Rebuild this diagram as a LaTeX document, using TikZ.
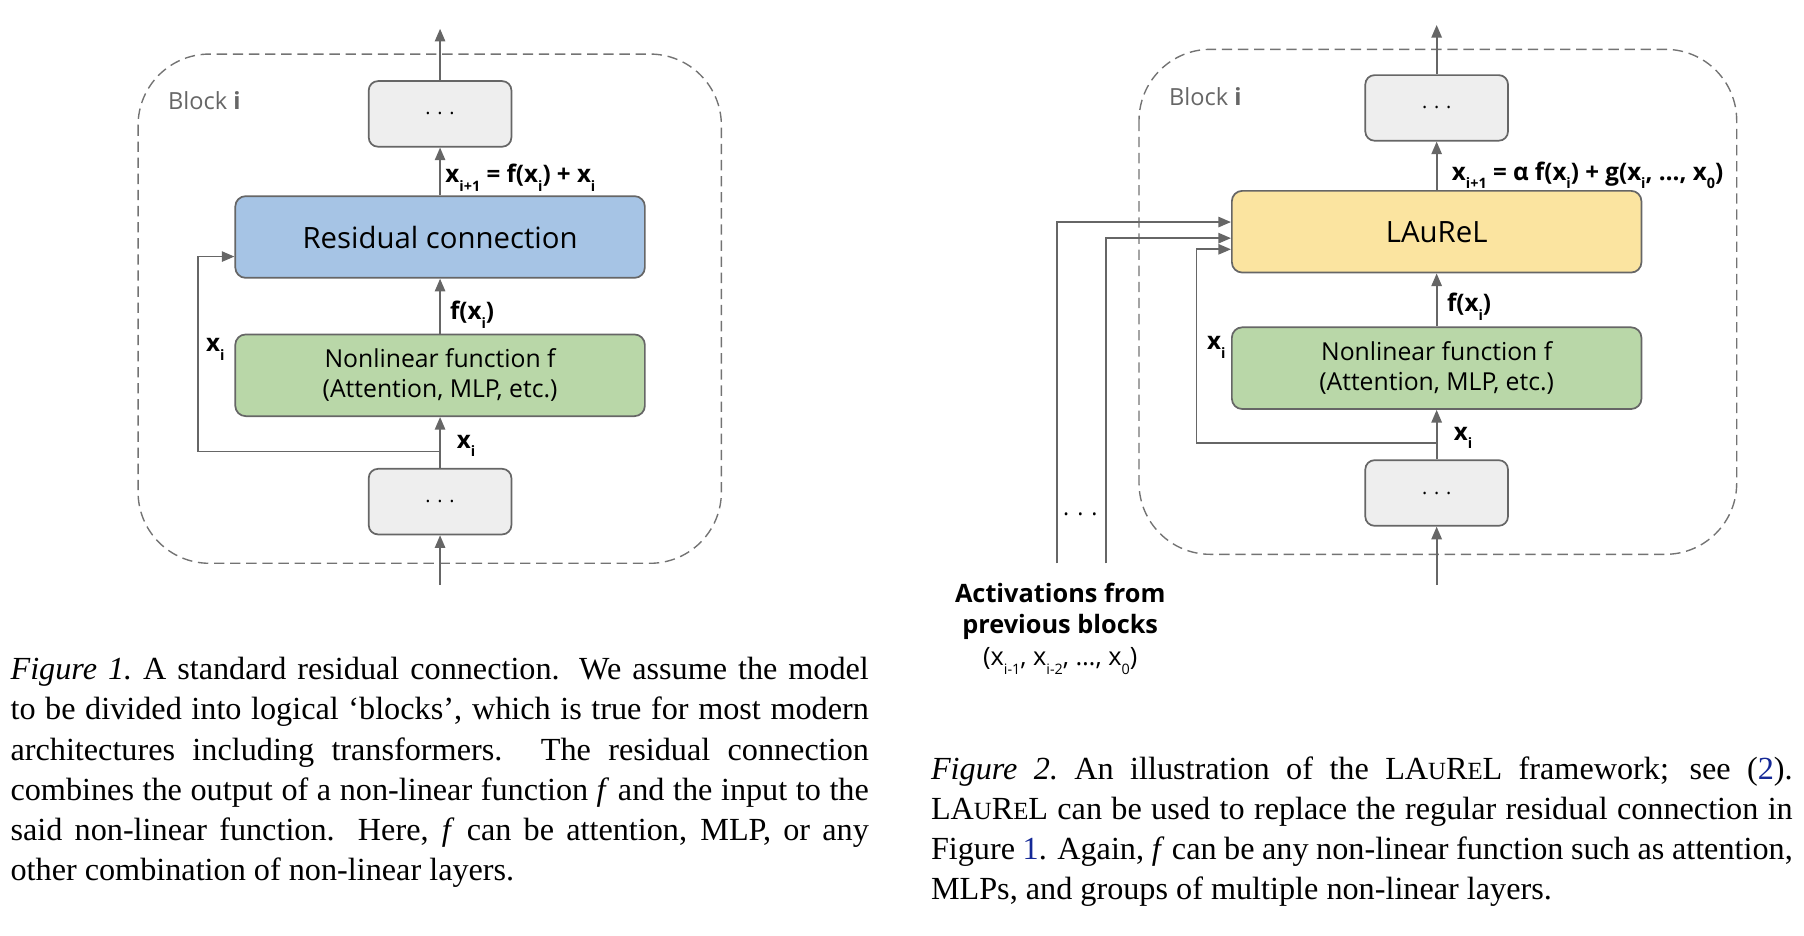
\documentclass[tikz,border=0pt]{standalone}
\usepackage{fontspec}
\setmainfont{Liberation Serif}
\newfontfamily\gsans{Open Sans}
\usetikzlibrary{calc,arrows.meta}
\definecolor{edgegray}{RGB}{102,102,102}
\definecolor{dashgray}{RGB}{115,115,115}
\definecolor{boxgray}{RGB}{238,238,238}
\definecolor{resblue}{RGB}{166,196,229}
\definecolor{nlgreen}{RGB}{185,215,168}
\definecolor{lryellow}{RGB}{251,228,160}
\definecolor{linkblue}{RGB}{20,40,150}
\newcommand\lowsub[1]{\raisebox{-.36em}{\fontsize{12.5}{12.5}\selectfont #1}}
\newcommand\laurelsc{LA{\fontsize{21.5}{21.5}\selectfont U}R{\fontsize{21.5}{21.5}\selectfont E}L}
\tikzset{
  stage/.style={draw=edgegray,fill=boxgray,line width=1.5pt,rounded corners=8pt,minimum width=124pt,minimum height=57pt,font=\gsans\fontsize{17}{17}\selectfont},
  mainbox/.style={draw=edgegray,line width=1.5pt,rounded corners=9pt,minimum width=356pt,minimum height=71pt},
  resbox/.style={mainbox,fill=resblue,font=\gsans\fontsize{25.5}{25.5}\selectfont},
  nlbox/.style={mainbox,fill=nlgreen,align=center,font=\gsans\fontsize{21.5}{26}\selectfont},
  lrbox/.style={mainbox,fill=lryellow,font=\gsans\fontsize{25.5}{25.5}\selectfont},
  blockline/.style={draw=dashgray,line width=1.2pt,dash pattern=on 9pt off 5pt,rounded corners=62pt},
  stream/.style={draw=edgegray,line width=1.5pt,-{Triangle[length=11pt,width=9pt]}},
  wire/.style={draw=edgegray,line width=1.5pt},
  flowlbl/.style={inner sep=0pt,font=\gsans\bfseries\fontsize{21}{21}\selectfont},
  blocklbl/.style={inner sep=0pt,text=edgegray,font=\gsans\fontsize{20.5}{20.5}\selectfont},
  actlbl/.style={inner sep=0pt,align=center,font=\gsans\fontsize{22}{27.5}\selectfont},
  caption/.style={inner sep=0pt,text width=746pt,align=justify,font=\fontsize{28}{35}\selectfont}
}
\begin{document}
\begin{tikzpicture}[x=1pt,y=-1pt]
  \useasboundingbox (0,0) rectangle (1568,813.5);

  % standard residual block
  \draw[blockline] (120,47) rectangle (627,489.6);
  \node[blocklbl,anchor=base west] (blk1) at (146,95.4) {Block \textbf{i}};
  \node[stage] (top1) at (382.5,99) {. . .};
  \node[resbox] (res1) at (382.5,206) {Residual connection};
  \node[nlbox] (nl1) at (382.5,326.2) {Nonlinear function f\\(Attention, MLP, etc.)};
  \node[stage] (bot1) at (382.5,436) {. . .};
  \coordinate (in1) at (382.5,508.5);
  \coordinate (out1) at (382.5,25);
  \coordinate (split1) at (382.5,392.5);
  \coordinate (skip1) at (172,392.5);

  \draw[stream] (in1) -- (bot1);
  \draw[stream] (bot1) -- (nl1);
  \draw[stream] (nl1) -- (res1);
  \draw[stream] (res1) -- (top1);
  \draw[stream] (top1) -- (out1);
  \draw[stream] (split1) -- (skip1) |- ($(res1.west)+(0,17)$);

  \node[flowlbl,anchor=base west] (sum1) at (387,159) {x\lowsub{i+1} = f(x\lowsub{i}) + x\lowsub{i}};
  \node[flowlbl,anchor=base west] (fx1) at (391,278) {f(x\lowsub{i})};
  \node[flowlbl,anchor=base west] (xin1) at (397,389.5) {x\lowsub{i}};
  \node[flowlbl,anchor=base west] (xskip1) at (179,305.7) {x\lowsub{i}};

  % LAuReL block
  \draw[blockline] (990,42.9) rectangle (1509.5,481.8);
  \node[blocklbl,anchor=base west] (blk2) at (1016,91.3) {Block \textbf{i}};
  \node[stage] (top2) at (1248.7,93.8) {. . .};
  \node[lrbox] (lr2) at (1248.7,201.4) {LAuReL};
  \node[nlbox] (nl2) at (1248.7,320) {Nonlinear function f\\(Attention, MLP, etc.)};
  \node[stage] (bot2) at (1248.7,428.5) {. . .};
  \coordinate (in2) at (1248.7,508.5);
  \coordinate (out2) at (1248.7,21.7);
  \coordinate (split2) at (1248.7,385.3);
  \coordinate (skip2) at (1040,385.3);
  \coordinate (act1) at (918.5,489.6);
  \coordinate (act2) at (961,489.6);

  \draw[stream] (in2) -- (bot2);
  \draw[stream] (bot2) -- (nl2);
  \draw[stream] (nl2) -- (lr2);
  \draw[stream] (lr2) -- (top2);
  \draw[stream] (top2) -- (out2);
  \draw[stream] (split2) -- (skip2) |- ($(lr2.west)+(0,15.3)$);
  \draw[stream] (act1) |- ($(lr2.west)+(0,-8.4)$);
  \draw[stream] (act2) |- ($(lr2.west)+(0,5.6)$);

  \node[flowlbl,anchor=base west] (sum2) at (1261.8,156.5) {x\lowsub{i+1} = α f(x\lowsub{i}) + g(x\lowsub{i}, …, x\lowsub{0})};
  \node[flowlbl,anchor=base west] (fx2) at (1257.5,271) {f(x\lowsub{i})};
  \node[flowlbl,anchor=base west] (xin2) at (1263.5,382.5) {x\lowsub{i}};
  \node[flowlbl,anchor=base west] (xskip2) at (1049,304) {x\lowsub{i}};
  \node[inner sep=0pt,font=\gsans\fontsize{20}{20}\selectfont] (gap2) at (939,447) {. . .};
  \node[actlbl,anchor=north] (acts) at (921.5,503.8) {\strut\bfseries Activations from\\\bfseries previous blocks\\(x\lowsub{i-1}, x\lowsub{i-2}, …, x\lowsub{0})};

  % captions
  \node[caption,anchor=north west] (cap1) at (9,566) {\strut\textit{Figure 1.}\ A standard residual connection. We assume the model\linebreak to be divided into logical `blocks', which is true for most modern\linebreak architectures including transformers.  The residual connection\linebreak combines the output of a non-linear function \textit{f} and the input to the\linebreak said non-linear function. Here, \textit{f} can be attention, MLP, or any\linebreak other combination of non-linear layers.};
  \node[caption,text width=749pt,anchor=north west] (cap2) at (809,652.5) {\strut\textit{Figure 2.}\ An illustration of the \laurelsc{} framework; see (\textcolor{linkblue}{2}).\linebreak \laurelsc{} can be used to replace the regular residual connection in\linebreak Figure \textcolor{linkblue}{1}. Again, \textit{f} can be any non-linear function such as attention,\linebreak MLPs, and groups of multiple non-linear layers.};
\end{tikzpicture}
\end{document}
